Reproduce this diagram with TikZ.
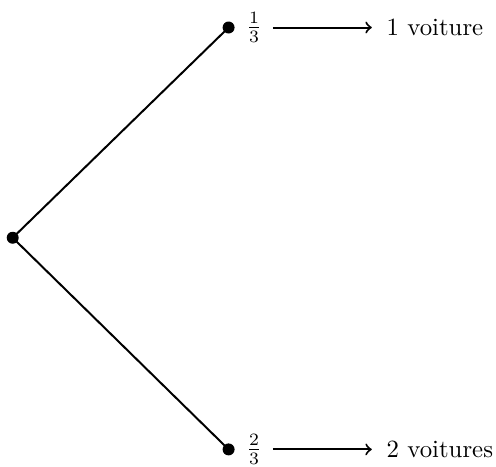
\documentclass[tikz,border=0pt]{standalone}
\usepackage{amsmath}
\usepackage{tikz}
\usetikzlibrary{positioning, calc, arrows}

\begin{document}
\begin{tikzpicture}[thick]

\useasboundingbox (0,0) rectangle (7.03,6.61);

%//root and the two branches
\node [circle, fill, inner sep=0pt, minimum size=0.17cm] (r) at (0.18,3.24) {};
\node [circle, fill, inner sep=0pt, minimum size=0.17cm] (h) at (3.24,6.22) {};
\node [circle, fill, inner sep=0pt, minimum size=0.17cm] (b) at (3.24,0.24) {};

\draw (r.center) -- (h.center);
\draw (r.center) -- (b.center);

\foreach \n/\p/\val/\txt in {h/1/$\frac{1}{3}$/1 voiture, b/2/$\frac{2}{3}$/2 voitures}
{
\node [right=0.02cm of \n] (p\p) {\val};
\node [anchor=west] (t\p) at (5.35, 0 |- \n) {\txt};
\draw [->, shorten >=0.08cm] ($(p\p.east)+(0.02,0)$) -- (t\p.west);
}

\end{tikzpicture}
\end{document}
